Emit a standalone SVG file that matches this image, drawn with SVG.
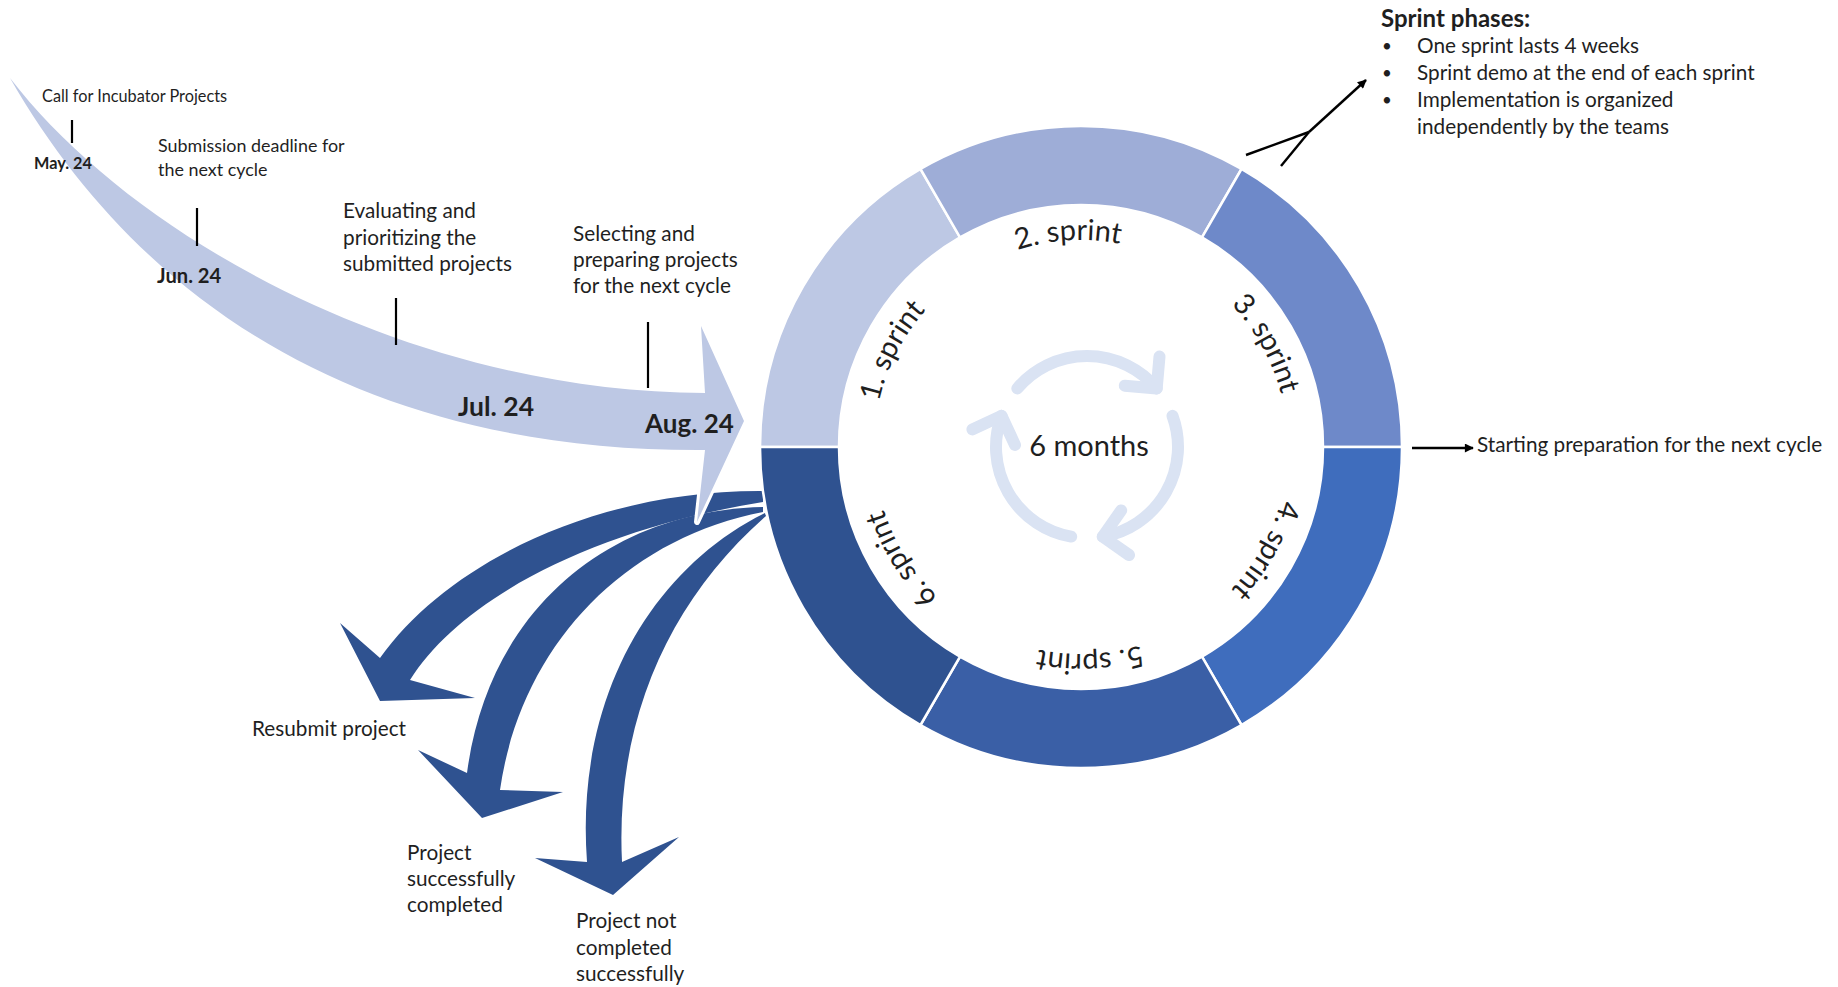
<svg xmlns="http://www.w3.org/2000/svg" width="1838" height="987" viewBox="0 0 1838 987">
<style>
text{font-family:Lato,"Liberation Sans",sans-serif;fill:#1f1f1f}
.s17{font-size:16.3px}
.s19{font-size:17.9px}
.s22{font-size:20.75px}
.bul{font-size:17px}
.b{font-weight:bold}
.lbl{font-size:29px}
.tick{stroke:#000;stroke-width:2.2;fill:none}
.conn{stroke:#000;stroke-width:2.4;fill:none}
.seg{stroke:#fff;stroke-width:2.5}
.dark{fill:#2F5290}
.cyc{fill:none;stroke:#DAE3F3;stroke-width:12;stroke-linecap:round;stroke-linejoin:round}
</style>
<defs>
<marker id="ah" viewBox="0 0 10 10" refX="9" refY="5" markerWidth="11" markerHeight="9" markerUnits="userSpaceOnUse" orient="auto">
<path d="M0,0 L10,5 L0,10 Z" fill="#000"/>
</marker>
<path id="lblCircle" d="M874,447 A207,207 0 1 1 1288,447 A207,207 0 1 1 874,447" fill="none"/>
<path id="tlShape" d="M10,78 C133,238 410,392 705,393 L701,326 L744,421 L697,522 L705,450 C380,452 148,318 10,78 Z"/>
<g id="cycArrow">
<path class="cyc" d="M1017.3,388.5 A91,91 0 0 1 1156.7,388.5"/>
<path class="cyc" d="M1124.8,385.7 L1156.7,388.5 L1159.5,356.6"/>
</g>
</defs>
<rect width="1838" height="987" fill="#fff"/>

<g id="outcome-arrows">
<path id="arrow-resubmit" class="dark" d="M763,491 C600,490 450,560 380,658 L340,623 L380,701 L475,698 L410,680 C460,600 590,530 763,502 Z"/>
<path id="arrow-completed" class="dark" d="M763,507 C620,510 490,600 467,773 L418,750 L482,818 L563,792 L500,790 C520,650 620,540 763,512 Z"/>
<path id="arrow-not-completed" class="dark" d="M765,513 C650,570 575,700 587,862 L535,858 L613,895 L679,837 L622,862 C615,720 670,600 766,516 Z"/>
</g>

<g id="timeline-arrow">
<use href="#tlShape" fill="none" stroke="#fff" stroke-width="6" stroke-linejoin="round"/>
<use href="#tlShape" fill="#BDC8E4"/>
</g>

<g id="ring">
<g id="sprint-1"><path class="seg" fill="#BDC8E4" d="M760,447 A321,321 0 0 1 920.5,169 L960,237.4 A242,242 0 0 0 839,447 Z"/></g>
<g id="sprint-2"><path class="seg" fill="#9EADD7" d="M920.5,169 A321,321 0 0 1 1241.5,169 L1202,237.4 A242,242 0 0 0 960,237.4 Z"/></g>
<g id="sprint-3"><path class="seg" fill="#6E89C9" d="M1241.5,169 A321,321 0 0 1 1402,447 L1323,447 A242,242 0 0 0 1202,237.4 Z"/></g>
<g id="sprint-4"><path class="seg" fill="#3F6DBD" d="M1402,447 A321,321 0 0 1 1241.5,725 L1202,656.6 A242,242 0 0 0 1323,447 Z"/></g>
<g id="sprint-5"><path class="seg" fill="#3A5FA6" d="M1241.5,725 A321,321 0 0 1 920.5,725 L960,656.6 A242,242 0 0 0 1202,656.6 Z"/></g>
<g id="sprint-6"><path class="seg" fill="#2F5290" d="M920.5,725 A321,321 0 0 1 760,447 L839,447 A242,242 0 0 0 960,656.6 Z"/></g>
<text class="lbl"><textPath href="#lblCircle" startOffset="7.5%" text-anchor="middle">1. sprint</textPath></text>
<text class="lbl"><textPath href="#lblCircle" startOffset="24.03%" text-anchor="middle">2. sprint</textPath></text>
<text class="lbl"><textPath href="#lblCircle" startOffset="41.9%" text-anchor="middle">3. sprint</textPath></text>
<text class="lbl"><textPath href="#lblCircle" startOffset="58.1%" text-anchor="middle">4. sprint</textPath></text>
<text class="lbl"><textPath href="#lblCircle" startOffset="74.31%" text-anchor="middle">5. sprint</textPath></text>
<text class="lbl"><textPath href="#lblCircle" startOffset="91.11%" text-anchor="middle">6. sprint</textPath></text>
</g>

<g id="cycle-icon">
<use href="#cycArrow"/>
<use href="#cycArrow" transform="rotate(120 1087 447)"/>
<use href="#cycArrow" transform="rotate(240 1087 447)"/>
<text class="lbl" x="1089" y="456" text-anchor="middle">6 months</text>
</g>

<g id="connectors">
<line class="tick" x1="72" y1="120" x2="72" y2="143"/>
<line class="tick" x1="197" y1="208" x2="197" y2="246"/>
<line class="tick" x1="396" y1="298" x2="396" y2="345"/>
<line class="tick" x1="648" y1="322" x2="648" y2="388"/>
<line class="conn" x1="1246" y1="155" x2="1309" y2="132"/>
<line class="conn" x1="1281" y1="166" x2="1309" y2="132"/>
<line class="conn" x1="1309" y1="132" x2="1366" y2="80" marker-end="url(#ah)"/>
<line class="conn" x1="1412" y1="448" x2="1473" y2="448" marker-end="url(#ah)"/>
</g>

<g id="timeline-labels">
<text class="s17" x="42" y="102">Call for Incubator Projects</text>
<text class="s17 b" x="34" y="169">May. 24</text>
<text class="s19" x="158" y="152">Submission deadline for</text>
<text class="s19" x="158" y="176">the next cycle</text>
<text class="b" style="font-size:20.2px" x="157" y="283">Jun. 24</text>
<text class="s22" x="343" y="218">Evaluating and</text>
<text class="s22" x="343" y="245">prioritizing the</text>
<text class="s22" x="343" y="271">submitted projects</text>
<text class="s22" x="573" y="241">Selecting and</text>
<text class="s22" x="573" y="267">preparing projects</text>
<text class="s22" x="573" y="293">for the next cycle</text>
<text class="b" style="font-size:26.5px" x="458" y="416">Jul. 24</text>
<text class="b" style="font-size:26px" x="645" y="433">Aug. 24</text>
</g>

<g id="sprint-phases">
<text class="b" style="font-size:24px" x="1381" y="27">Sprint phases:</text>
<text class="bul" x="1382" y="52">•</text>
<text class="s22" x="1417" y="53">One sprint lasts 4 weeks</text>
<text class="bul" x="1382" y="79">•</text>
<text class="s22" x="1417" y="80">Sprint demo at the end of each sprint</text>
<text class="bul" x="1382" y="106">•</text>
<text class="s22" x="1417" y="107">Implementation is organized</text>
<text class="s22" x="1417" y="134">independently by the teams</text>
</g>

<g id="next-cycle">
<text class="s22" x="1477" y="452">Starting preparation for the next cycle</text>
</g>

<g id="outcome-labels">
<text class="s22" x="252" y="736">Resubmit project</text>
<text class="s22" x="407" y="860">Project</text>
<text class="s22" x="407" y="886">successfully</text>
<text class="s22" x="407" y="912">completed</text>
<text class="s22" x="576" y="928">Project not</text>
<text class="s22" x="576" y="955">completed</text>
<text class="s22" x="576" y="981">successfully</text>
</g>
</svg>
